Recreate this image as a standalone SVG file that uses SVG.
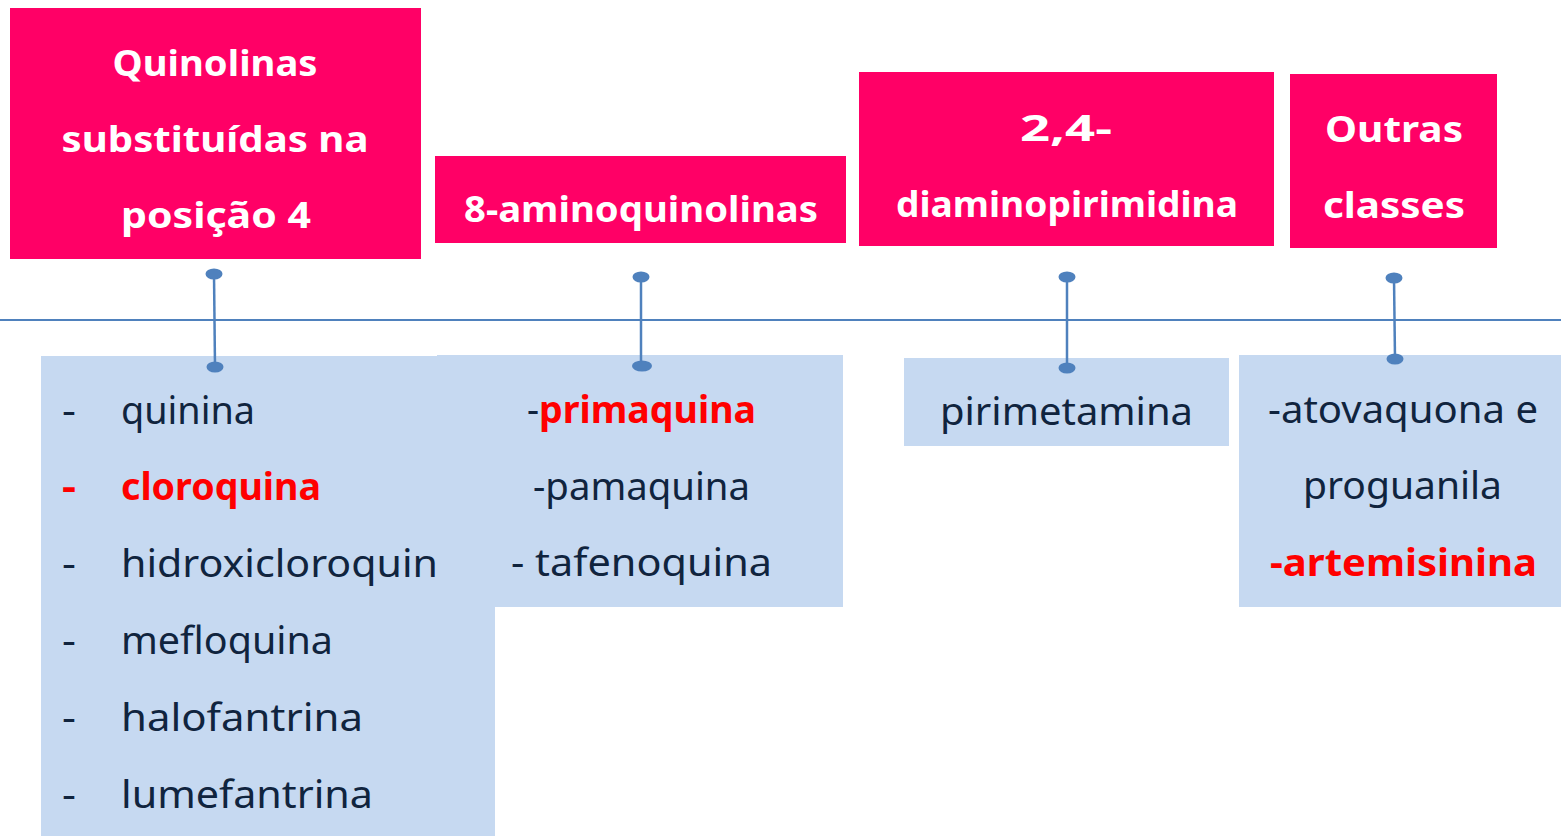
<svg xmlns="http://www.w3.org/2000/svg" width="1561" height="836" viewBox="0 0 1561 836">
  <style>
    .hdr { fill: #ff0066; }
    .lst { fill: #c6d9f1; }
    .ht { font-family: "Comic Sans MS", "Noto Sans", sans-serif; font-weight: bold; font-size: 36px; fill: #ffffff; text-anchor: middle; }
    .bt { font-family: "Comic Sans MS", "Noto Sans", sans-serif; font-size: 38px; fill: #10243e; }
    .red { fill: #ff0000; font-weight: bold; }
    .link { stroke: #4f81bd; stroke-width: 2.5; fill: none; }
    .axis { stroke: #4f81bd; stroke-width: 2; fill: none; }
    .dot { fill: #4f81bd; }
  </style>

  <rect width="1561" height="836" fill="#ffffff"/>

  <!-- item lists (light blue panels) -->
  <g id="list-quinolinas">
    <rect class="lst" x="41" y="356" width="454" height="480"/>
    <text class="bt" x="62" y="424" textLength="14" lengthAdjust="spacingAndGlyphs">-</text>
    <text class="bt" x="121" y="424" textLength="134" lengthAdjust="spacingAndGlyphs">quinina</text>
    <text class="bt red" x="62" y="500" textLength="14" lengthAdjust="spacingAndGlyphs">-</text>
    <text class="bt red" x="121" y="500" textLength="200" lengthAdjust="spacingAndGlyphs">cloroquina</text>
    <text class="bt" x="62" y="577" textLength="14" lengthAdjust="spacingAndGlyphs">-</text>
    <text class="bt" x="121" y="577" textLength="317" lengthAdjust="spacingAndGlyphs">hidroxicloroquin</text>
    <text class="bt" x="62" y="654" textLength="14" lengthAdjust="spacingAndGlyphs">-</text>
    <text class="bt" x="121" y="654" textLength="212" lengthAdjust="spacingAndGlyphs">mefloquina</text>
    <text class="bt" x="62" y="731" textLength="14" lengthAdjust="spacingAndGlyphs">-</text>
    <text class="bt" x="121" y="731" textLength="242" lengthAdjust="spacingAndGlyphs">halofantrina</text>
    <text class="bt" x="62" y="808" textLength="14" lengthAdjust="spacingAndGlyphs">-</text>
    <text class="bt" x="121" y="808" textLength="252" lengthAdjust="spacingAndGlyphs">lumefantrina</text>
  </g>

  <g id="list-8-amino">
    <rect class="lst" x="437" y="355" width="406" height="252"/>
    <text class="bt" x="527" y="423" textLength="229" lengthAdjust="spacingAndGlyphs">-<tspan class="red">primaquina</tspan></text>
    <text class="bt" x="533" y="500" textLength="217" lengthAdjust="spacingAndGlyphs">-pamaquina</text>
    <text class="bt" x="511" y="576" textLength="261" lengthAdjust="spacingAndGlyphs">- tafenoquina</text>
  </g>

  <g id="list-diamino">
    <rect class="lst" x="904" y="358" width="325" height="88"/>
    <text class="bt" x="940" y="425" textLength="253" lengthAdjust="spacingAndGlyphs">pirimetamina</text>
  </g>

  <g id="list-outras">
    <rect class="lst" x="1239" y="355" width="322" height="252"/>
    <text class="bt" x="1268" y="423" textLength="270" lengthAdjust="spacingAndGlyphs">-atovaquona e</text>
    <text class="bt" x="1303" y="499" textLength="199" lengthAdjust="spacingAndGlyphs">proguanila</text>
    <text class="bt red" x="1270" y="576" textLength="267" lengthAdjust="spacingAndGlyphs">-artemisinina</text>
  </g>

  <!-- category headers -->
  <g id="hdr-quinolinas">
    <rect class="hdr" x="10" y="8" width="411" height="251"/>
    <text class="ht" x="215" y="76" textLength="205" lengthAdjust="spacingAndGlyphs">Quinolinas</text>
    <text class="ht" x="215" y="152" textLength="307" lengthAdjust="spacingAndGlyphs">substituídas na</text>
    <text class="ht" x="216" y="228" textLength="190" lengthAdjust="spacingAndGlyphs">posição 4</text>
  </g>

  <g id="hdr-8-amino">
    <rect class="hdr" x="435" y="156" width="411" height="87"/>
    <text class="ht" x="641" y="222" textLength="354" lengthAdjust="spacingAndGlyphs">8-aminoquinolinas</text>
  </g>

  <g id="hdr-diamino">
    <rect class="hdr" x="859" y="72" width="415" height="174"/>
    <text class="ht" x="1066" y="141" textLength="92" lengthAdjust="spacingAndGlyphs">2,4-</text>
    <text class="ht" x="1067" y="217" textLength="342" lengthAdjust="spacingAndGlyphs">diaminopirimidina</text>
  </g>

  <g id="hdr-outras">
    <rect class="hdr" x="1290" y="74" width="207" height="174"/>
    <text class="ht" x="1394" y="142" textLength="138" lengthAdjust="spacingAndGlyphs">Outras</text>
    <text class="ht" x="1394" y="218" textLength="142" lengthAdjust="spacingAndGlyphs">classes</text>
  </g>

  <!-- timeline axis and connectors -->
  <g id="connectors">
    <line class="axis" x1="0" y1="320" x2="1561" y2="320"/>
    <line class="link" x1="214" y1="274" x2="215" y2="367"/>
    <ellipse class="dot" cx="214" cy="274" rx="8.5" ry="5.5"/>
    <ellipse class="dot" cx="215" cy="367" rx="8.5" ry="5.5"/>
    <line class="link" x1="641" y1="277" x2="641" y2="366"/>
    <ellipse class="dot" cx="641" cy="277" rx="8.5" ry="5.5"/>
    <ellipse class="dot" cx="642" cy="366" rx="10" ry="5.5"/>
    <line class="link" x1="1067" y1="277" x2="1067" y2="368"/>
    <ellipse class="dot" cx="1067" cy="277" rx="8.5" ry="5.5"/>
    <ellipse class="dot" cx="1067" cy="368" rx="8.5" ry="5.5"/>
    <line class="link" x1="1394" y1="278" x2="1395" y2="359"/>
    <ellipse class="dot" cx="1394" cy="278" rx="8.5" ry="5.5"/>
    <ellipse class="dot" cx="1395" cy="359" rx="8.5" ry="5.5"/>
  </g>
</svg>
